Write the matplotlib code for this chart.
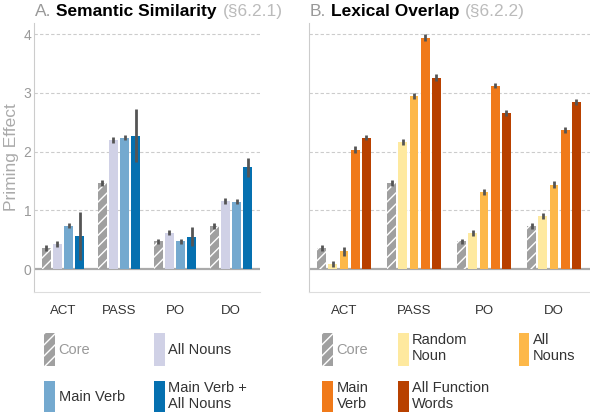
import matplotlib.pyplot as plt
from matplotlib.patches import Patch

plt.rcParams["font.family"] = ["Liberation Sans", "DejaVu Sans"]
plt.rcParams["hatch.linewidth"] = 1.0

constructions = ["ACT", "PASS", "PO", "DO"]

# Panel A: semantic similarity
sem_labels = ["Core", "All Nouns", "Main Verb", "Main Verb +\nAll Nouns"]
sem_colors = ["#a0a0a0", "#d0d1e6", "#74a9cf", "#0570b0"]
sem_values = [
    [0.36, 1.47, 0.47, 0.74],  # Core
    [0.43, 2.20, 0.62, 1.16],  # All Nouns
    [0.74, 2.24, 0.47, 1.15],  # Main Verb
    [0.57, 2.27, 0.55, 1.73],  # Main Verb + All Nouns
]
sem_errors = [
    [0.05, 0.05, 0.05, 0.05],
    [0.05, 0.05, 0.04, 0.05],
    [0.04, 0.05, 0.04, 0.04],
    [0.41, 0.45, 0.16, 0.17],
]

# Panel B: lexical overlap
lex_labels = ["Core", "Random\nNoun", "All\nNouns", "Main\nVerb", "All Function\nWords"]
lex_colors = ["#a0a0a0", "#fee99f", "#fdb849", "#f07a1a", "#b84100"]
lex_values = [
    [0.36, 1.47, 0.47, 0.74],  # Core
    [0.09, 2.17, 0.62, 0.91],  # Random Noun
    [0.30, 2.94, 1.32, 1.44],  # All Nouns
    [2.03, 3.94, 3.125, 2.375],  # Main Verb
    [2.24, 3.26, 2.66, 2.84],  # All Function Words
]
lex_errors = [
    [0.05, 0.05, 0.05, 0.05],
    [0.05, 0.05, 0.05, 0.05],
    [0.07, 0.05, 0.05, 0.06],
    [0.06, 0.06, 0.05, 0.05],
    [0.05, 0.06, 0.05, 0.05],
]

W, H = 590, 412
fig = plt.figure(figsize=(W / 100, H / 100), dpi=100)
ax_a = fig.add_axes([34 / W, 1 - 292 / H, 226 / W, 269 / H])
ax_b = fig.add_axes([309 / W, 1 - 292 / H, 281 / W, 269 / H])


def draw_panel(ax, values, errors, colors, labels, width, step):
    n = len(values)
    handles = []
    for i, (vals, errs, color, label) in enumerate(zip(values, errors, colors, labels)):
        offset = (i - (n - 1) / 2) * step
        xs = [g + offset for g in range(len(constructions))]
        hatch = "///" if i == 0 else None
        edge = "white" if hatch else color
        ax.bar(xs, vals, width, color=color, edgecolor=edge, linewidth=0,
               hatch=hatch, zorder=2)
        ax.errorbar(xs, vals, yerr=errs, fmt="none", ecolor="#555555",
                    elinewidth=2, capsize=0, zorder=3)
        handles.append(Patch(facecolor=color, edgecolor=edge, linewidth=0,
                             hatch=hatch, label=label))

    ax.axhline(0, color="#aaaaaa", lw=1.6, zorder=1)
    for y in [1, 2, 3, 4]:
        ax.axhline(y, color="#cccccc", lw=0.8, ls=(0, (3, 2)), zorder=0)
    ax.set_ylim(-0.39, 4.19)
    ax.set_yticks([0, 1, 2, 3, 4])
    ax.set_xticks(range(len(constructions)))
    ax.set_xticklabels(constructions)
    for side in ["top", "right"]:
        ax.spines[side].set_visible(False)
    ax.spines["left"].set_color("#cccccc")
    ax.spines["bottom"].set_color("#dddddd")
    ax.tick_params(length=0)
    ax.tick_params(axis="x", pad=9, labelsize=9.5, labelcolor="#333333")
    ax.tick_params(axis="y", pad=2, labelsize=10, labelcolor="#999999")
    return handles


h_a = draw_panel(ax_a, sem_values, sem_errors, sem_colors, sem_labels, 0.155, 0.197)
ax_a.set_xlim(-0.518, 3.518)
ax_a.set_ylabel("Priming Effect", fontsize=12.5, color="#aaaaaa", labelpad=3)

h_b = draw_panel(ax_b, lex_values, lex_errors, lex_colors, lex_labels, 0.124, 0.16)
ax_b.set_xlim(-0.5, 3.514)
ax_b.tick_params(axis="y", labelleft=False)


def add_legend(ax, handles, order, ncol, x, y):
    leg = ax.legend([handles[i] for i in order], [handles[i].get_label() for i in order],
                    ncol=ncol, loc="upper left", bbox_to_anchor=(x / W, 1 - y / H),
                    bbox_transform=fig.transFigure, frameon=False, fontsize=10.5,
                    handlelength=0.75, handleheight=3.1, handletextpad=0.25,
                    columnspacing=2.0, labelspacing=1.0, borderpad=0, borderaxespad=0)
    for t, i in zip(leg.get_texts(), order):
        t.set_color("#999999" if i == 0 else "#333333")


add_legend(ax_a, h_a, [0, 2, 1, 3], 2, 44, 333)
add_legend(ax_b, h_b, [0, 3, 1, 4, 2], 3, 322, 333)


def add_title(x, letter, name, section):
    base = 1 - 19 / H
    t1 = fig.text(x / W, base, letter, fontsize=12.5, color="#999999", va="bottom")
    t2 = ax_a.annotate(name, xy=(1, 0), xycoords=t1, xytext=(3.5, 0),
                       textcoords="offset points", fontsize=12.5, fontweight="bold",
                       color="black", va="bottom", ha="left")
    ax_a.annotate(section, xy=(1, 0), xycoords=t2, xytext=(4, 0),
                  textcoords="offset points", fontsize=12.5, color="#bbbbbb",
                  va="bottom", ha="left")


add_title(35, "A.", "Semantic Similarity", "(§6.2.1)")
add_title(310, "B.", "Lexical Overlap", "(§6.2.2)")

fig.savefig("out.png", dpi=100)
